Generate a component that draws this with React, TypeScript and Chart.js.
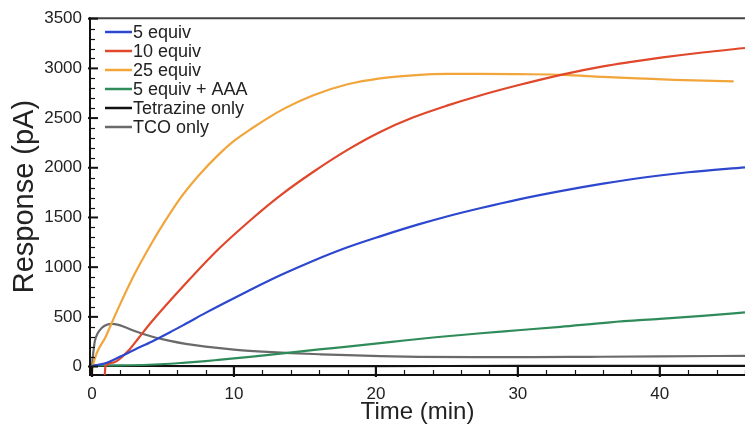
import React, { useEffect, useRef } from 'react';
import { Chart, registerables } from 'chart.js';

Chart.register(...registerables);

const FONT = '"Liberation Sans", Arial, Helvetica, sans-serif';

const seriesLabels = ['5 equiv', '10 equiv', '25 equiv', '5 equiv + AAA', 'Tetrazine only', 'TCO only'];
const seriesColors = ['#2d47cf', '#e0472b', '#f1a53b', '#2f8c5a', '#111111', '#6a6a6a'];

// 5 equiv
const time5 = [0, 1, 2, 3, 4.2, 5.5, 6.6, 8, 9.2, 11, 13.3, 15.6, 18, 20.3, 23, 25, 27.4, 30, 33, 36, 39, 42, 46];
const resp5 = [5, 35, 100, 170, 250, 345, 430, 540, 630, 760, 920, 1065, 1200, 1310, 1430, 1510, 1595, 1680, 1765, 1840, 1905, 1955, 2005];

// 10 equiv
const time10 = [0.9, 0.95, 1.5, 2.5, 3.3, 4.2, 6.6, 8.9, 11.3, 13.3, 15.6, 18, 20.3, 22.6, 25, 27.4, 30, 33.2, 36, 38, 40.2, 43, 46];
const resp10 = [-85, 5, 40, 150, 290, 450, 835, 1180, 1490, 1725, 1960, 2180, 2360, 2505, 2625, 2730, 2830, 2940, 3020, 3065, 3110, 3160, 3205];

// 25 equiv
const time25 = [0, 0.05, 1, 1.8, 3, 4.2, 5, 6.2, 7.5, 8.9, 10, 11.3, 12.5, 13.6, 15.6, 18, 20.3, 22.6, 25, 27.4, 30, 33.2, 36, 38.4, 41, 45.2];
const resp25 = [-50, 0, 310, 570, 930, 1240, 1430, 1690, 1920, 2130, 2270, 2400, 2510, 2600, 2730, 2840, 2900, 2930, 2945, 2945, 2942, 2935, 2915, 2900, 2885, 2870];

// 5 equiv + AAA
const timeAAA = [0, 2, 4, 5.5, 6.6, 8, 8.9, 10, 11.3, 13.6, 16, 18, 20.3, 22, 24.2, 27.4, 30, 33, 36.5, 40, 43, 46];
const respAAA = [10, 12, 18, 28, 40, 55, 67, 82, 100, 136, 172, 200, 235, 262, 295, 335, 365, 400, 445, 480, 510, 545];

// Tetrazine only
const timeTz = [0, 10, 20, 30, 40, 46];
const respTz = [6, 5, 5, 6, 6, 6];

// TCO only
const timeTco = [0, 0.1, 0.2, 0.4, 0.7, 1, 1.4, 1.8, 2.4, 3, 4.2, 5.5, 6.6, 8, 10, 12, 14, 16, 18, 20.3, 23, 27, 31, 35, 40, 46];
const respTco = [10, 150, 255, 335, 390, 418, 430, 422, 392, 358, 302, 258, 228, 200, 170, 150, 135, 124, 114, 105, 98, 95, 95, 98, 102, 108];

const seriesTimes = [time5, time10, time25, timeAAA, timeTz, timeTco];
const seriesValues = [resp5, resp10, resp25, respAAA, respTz, respTco];

const xTickValues = [0, 10, 20, 30, 40];
const yTickValues = [0, 500, 1000, 1500, 2000, 2500, 3000, 3500];
const xMinorStep = 2;
const yMinorStep = 100;

const decorPlugin = {
  id: 'decor',
  afterDraw(chart: any) {
    const { ctx, chartArea: a, scales } = chart;
    const x = scales.x;
    const y = scales.y;
    ctx.save();
    // top border
    ctx.lineWidth = 2;
    ctx.strokeStyle = '#444';
    ctx.beginPath();
    ctx.moveTo(a.left, a.top);
    ctx.lineTo(a.right, a.top);
    ctx.stroke();
    ctx.strokeStyle = '#111';
    // y minor ticks
    ctx.lineWidth = 1.2;
    for (let v = 0; v <= 3500; v += yMinorStep) {
      if (yTickValues.includes(v)) continue;
      const py = Math.round(y.getPixelForValue(v)) + 0.5;
      ctx.beginPath();
      ctx.moveTo(a.left, py);
      ctx.lineTo(a.left + 5, py);
      ctx.stroke();
    }
    ctx.lineWidth = 2;
    for (const v of yTickValues) {
      const py = y.getPixelForValue(v);
      ctx.beginPath();
      ctx.moveTo(a.left - 2, py);
      ctx.lineTo(a.left + 8, py);
      ctx.stroke();
    }
    // x ticks
    ctx.lineWidth = 1.2;
    for (let v = 0; v <= 46; v += xMinorStep) {
      if (xTickValues.includes(v)) continue;
      const px = Math.round(x.getPixelForValue(v)) + 0.5;
      ctx.beginPath();
      ctx.moveTo(px, a.bottom);
      ctx.lineTo(px, a.bottom - 5);
      ctx.stroke();
    }
    ctx.lineWidth = 2.2;
    for (const v of xTickValues) {
      const px = x.getPixelForValue(v);
      ctx.beginPath();
      ctx.moveTo(px, a.bottom + 2);
      ctx.lineTo(px, a.bottom - 8);
      ctx.stroke();
    }
    // legend
    ctx.font = `18px ${FONT}`;
    ctx.textBaseline = 'middle';
    ctx.textAlign = 'left';
    chart.data.datasets.forEach((ds: any, i: number) => {
      const ly = 32 + i * 19;
      ctx.strokeStyle = ds.borderColor;
      ctx.lineWidth = 2.5;
      ctx.beginPath();
      ctx.moveTo(105, ly);
      ctx.lineTo(132, ly);
      ctx.stroke();
      ctx.fillStyle = '#222';
      ctx.fillText(ds.label, 133, ly + 1);
    });
    ctx.restore();
  },
};

export default function App() {
  const ref = useRef<HTMLCanvasElement | null>(null);
  useEffect(() => {
    if (!ref.current) return;
    const datasets = seriesLabels.map((label, i) => ({
      label,
      data: seriesTimes[i].map((t, j) => ({ x: t, y: seriesValues[i][j] })),
      borderColor: seriesColors[i],
      backgroundColor: seriesColors[i],
      borderWidth: 2.2,
      pointRadius: 0,
      cubicInterpolationMode: 'monotone' as const,
      fill: false,
    }));
    const chart = new Chart(ref.current, {
      type: 'line',
      data: { datasets },
      options: {
        animation: false,
        responsive: false,
        devicePixelRatio: 1,
        layout: { padding: { top: 16, right: 0, bottom: 0, left: 0 } },
        plugins: { legend: { display: false }, tooltip: { enabled: false } },
        scales: {
          x: {
            type: 'linear',
            min: -0.14,
            max: 46,
            afterBuildTicks: (s: any) => {
              s.ticks = xTickValues.map((v) => ({ value: v }));
            },
            afterFit: (s: any) => {
              s.height = 52;
            },
            ticks: {
              font: { size: 17, family: FONT },
              color: '#222',
              padding: 9,
              maxRotation: 0,
              autoSkip: false,
              callback: (v: any) => String(v),
            },
            grid: { display: false, drawTicks: false },
            border: { display: true, color: '#111', width: 2 },
            title: { display: true, text: 'Time (min)', font: { size: 24, family: FONT }, color: '#222', padding: { top: 0, bottom: 0 } },
          },
          y: {
            type: 'linear',
            min: -85,
            max: 3505,
            afterBuildTicks: (s: any) => {
              s.ticks = yTickValues.map((v) => ({ value: v }));
            },
            afterFit: (s: any) => {
              s.width = 90;
            },
            ticks: {
              font: { size: 17, family: FONT },
              color: '#222',
              padding: 8,
              autoSkip: false,
              callback: (v: any) => String(v),
            },
            grid: { display: false, drawTicks: false },
            border: { display: true, color: '#111', width: 2 },
            title: { display: true, text: 'Response (pA)', font: { size: 29, family: FONT }, color: '#222', padding: { top: 8, bottom: 0 } },
          },
        },
      },
      plugins: [decorPlugin],
    });
    return () => chart.destroy();
  }, []);
  return (
    <div style={{ position: 'fixed', left: 0, top: 0, width: 745, height: 427, background: '#fff' }}>
      <canvas ref={ref} width={745} height={427} style={{ width: 745, height: 427, display: 'block' }} />
    </div>
  );
}
